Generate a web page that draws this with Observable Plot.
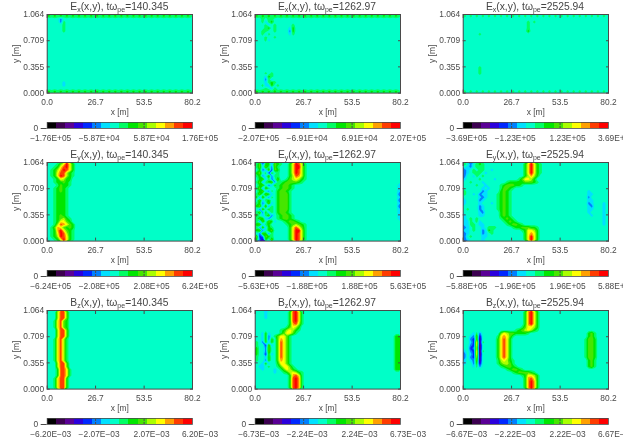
<!DOCTYPE html>
<html>
<head>
<meta charset="utf-8">
<script src="https://cdn.jsdelivr.net/npm/d3@7"></script>
<script src="https://cdn.jsdelivr.net/npm/@observablehq/plot@0.6"></script>
<style>
html,body{margin:0;padding:0;background:#fff;overflow:hidden}
#page{position:relative;width:623px;height:445px;overflow:hidden;background:#fff;filter:blur(0.3px)}
#page>svg{position:absolute;overflow:visible}
.ttl{position:absolute;text-align:center;font:10.3px "Liberation Sans",sans-serif;color:#444;white-space:nowrap;line-height:13px}
.ttl sub{font-size:7px;line-height:0;vertical-align:-2px}
</style>
</head>
<body>
<div id="page"></div>
<script>
// Run labels
const components = ["x", "y", "z"];
const fieldNames = ["E", "E", "B"];
const times = ["140.345", "1262.97", "2525.94"];
// Colour bar end values and inner tick values, row by row
const barMax = [[1.76e5, 2.07e5, 3.69e5], [6.24e5, 5.63e5, 5.88e5], [6.20e-3, 6.73e-3, 6.67e-3]];
const barMid = [[5.87e4, 6.91e4, 1.23e5], [2.08e5, 1.88e5, 1.96e5], [2.07e-3, 2.24e-3, 2.22e-3]];
// Axis ticks
const xTicks = [0, 26.7, 53.5, 80.2];
const yTicks = [0, 0.355, 0.709, 1.064];
const xTickLabels = ["0.0", "26.7", "53.5", "80.2"];
const yTickLabels = ["0.000", "0.355", "0.709", "1.064"];
// 16-step rainbow colour table
const palette = ["#000000","#3c0050","#5a0096","#2a00dc","#0028ff","#0080ff","#00e0ff","#00ffc8","#00ff64","#00e600","#46e600","#aaff00","#ffff00","#ffa000","#ff3c00","#ff0000"];
// Field levels: 48 columns by 26 rows, top row first, hex digit is the
// colour table level, 7 is the background level, omitted cells are background;
// "|" right-aligns what follows to the last column.
const Ex140 = ["989898989898989898989898989898989898989898989898","77775","777758","777778","777778","777778","","","","","","","","","","","","","","","","","777776","777776","","989898989898989898989898989898989898989898989898"];
const Ex1262 = ["989898989898989898989898989898989898989898989898","7787887","7786897","7778678777778","7778978777769","7788778777759","7786877777768","7778778","777867","","","","","","","","","","","777878","777698","777586","7776898","77866978","77787687","989898989898989898989898989898989898989898989898"];
const Ex2525 = ["878787878787878787878787878787878787878787878787","","777777777777777777777878","7777777777777777777778","7777777777777777777778","7777777777777777777779","777778","","","","","","","","","","","777778","777778","777778","","","","","","878787878787878787878787878787878787878787878787"];
const Ey140 = ["7778acfc97","7789cefc97","789bdfec97","789ceeb987","789cfeb987","7789cb9977","77899a9877","7778a99877","7789a98777","7789a98777","7789998777","7789998777","7789998777","7789998777","7789998777","7789998777","7789998777","7789a98777","7789ab9877","7789cca977","778bedca97","78adca9a97","789dfca987","789cfeb987","789bfec987","7789cfc987"];
const Ey1262 = [
"8a5996a98779cfeb8",
"8a6a85a87779cffb8",
"7956a4a97779cfeb8",
"9a7849787779cfeb8",
"8957a5887779bedb8",
"79a6857a778abcb98",
"8a58 9a5889aaaa98".replace(" ",""),
"79a756989aa98|6",
"8a5a87789aa98|6",
"79a65879aa98|6",
"8a7a9679aaa8|5",
"95a75879aaa8|6",
"7a689779aaa8|5",
"8957a679aaa8|6",
"9a6a5879aaa8|5",
"75a79879aaa8|6",
"8a596879aa98|6",
"9768a5789aa98|6",
"8a9657789aa98|6",
"85a7a967789aa98",
"9a6897777789aba98",
"85a698777779ceca8",
"9a579a777779cffb8",
"75a9587 77779cfeb8".replace(" ",""),
"a45a987 77779cfeb8".replace(" ",""),
"95397a7 77779cfeb8".replace(" ","")
];
const Ey2525 = [
"875789877777777777779cfc98",
"765788877777777777779cfc98",
"567878877677777777779cfc98",
"567888767777777777779cfc98",
"577687877777777777779bdb9",
"6777787777677777778accb9",
"77877767777777899999aaa98",
"77778776777789aaa998",
"7777776767778aa98",
"8777775677779a98|6777777",
"8776756677789a98|6677777",
"7777765677789a98|5777777",
"6777756777789a98|6677777",
"6777767776789a98|5677767",
"7777756777789a98|6577767",
"7877756777789a98|6677767",
"7777765777779a98|6777767",
"6777766777779a98|7677767",
"67878777777789a98|7777767",
"668786777777789a98|7777767",
"6688766777777789aa98|7777767",
"567877678887777789 9aaa998".replace(" ",""),
"667877569877777777789ccb9",
"567777567877777777779cdc9",
"578777667777777777779cfc9",
"567777677777777777779cfc9"
];
const Bz140 = ["777beea","777beea","777beea","778cea9","778cea9","778cea9","777beea","777beea","777beea","778ceb8","778ceb8","778ceb8","778ceb8","778ceb8","778ceb8","778ceb8","778ceb8","777beea","777beea","7779eec8","7779eec8","7779eec8","778cee9","778cee9","778cee9","778cee9"];
const Bz1262 = [
"777677777779efc8",
"777677777779efc8",
"777677777779efc8",
"777777777779efc8",
"777777777779deb8",
"77777777778acb9",
"7777777789bcb98",
"76967778acca8".replace(/^/,"7"),
"7769578acca8|99",
"7769597adca8|99",
"8759697aeca8|99",
"8774a67aeca8|99",
"9775a77aeca8|99",
"9775a77aeca8|99",
"9774967aeca8|99",
"8776977aeca8|99",
"8775977adca8|99",
"77696779cca8|99",
"76678778acca8|99",
"776777678acb98|99",
"77777767789bcb98",
"777777777779dec8",
"777777777779efd8",
"777777777779efd8",
"777777777779efd8",
"777777777779efd8"
];
const Bz2525 = [
"777777777777777777779dfc9",
"777777777777777777779dfc9",
"777777777777777777779dfc9",
"777777777777777777779dfc9",
"777777777777777777779dfc9",
"77777777777777777778accb9",
"7777777777777777789abcb98",
"777685777777acbaa99998|9a87777",
"7765a3777778cdca8|9a87777",
"7754a2777779cec9|8aa97777",
"7764c2877779cec9|8aa97777",
"7754c1777779cec9|8aa97777",
"7745b1777779cec9|8aa97777",
"6754c1877779cec9|8aa97777",
"5764c1777779cec9|8aa97777",
"5754b2777779cec9|8aa97777",
"6765a2777778bcb98|9a87777",
"6775937777 78abba8".replace(" ","")+"|9a87777",
"777685777777 89aa98".replace(" ","")+"|9a87777",
"7777777777777789aa98",
"777777777777777789aaaa98",
"777777777777777777789ccb9",
"777777777777777777779dec9",
"777777777777777777779dfd9",
"777777777777777777779dfd9",
"777777777777777777779dfd9"
];
const fields = [[Ex140, Ex1262, Ex2525], [Ey140, Ey1262, Ey2525], [Bz140, Bz1262, Bz2525]];

const NX = 48, NY = 26;
const colLeft = [46.7, 254.3, 462.3], colWidth = 145.3;
const rowTop = [14, 162, 310], panelHeight = 78.6;
const ink = "#4a4a4a";
const font = {fontFamily: "Liberation Sans, sans-serif", fontSize: "8.4px", color: ink, overflow: "visible", background: "none"};
const fmt = v => {
  const [m, e] = v.toExponential(2).split("e");
  const sign = e[0] === "-" ? "-" : "+";
  return (m.replace("-", "\u2212") + "E" + (sign === "-" ? "\u2212" : "+") + e.slice(1).padStart(2, "0"));
};
const page = document.getElementById("page");

function gridValues(rows, step) {
  const out = [];
  for (const row of rows) {
    const [a, b = ""] = row.split("|");
    const s = (a + "7".repeat(Math.max(0, NX - a.length - b.length)) + b).slice(0, NX);
    for (const ch of s) out.push((parseInt(ch, 16) - 7.5) * step);
  }
  return out;
}

for (let r = 0; r < 3; r++) for (let c = 0; c < 3; c++) {
  const max = barMax[r][c], mid = barMid[r][c], step = max / 8;
  const thresholds = d3.range(16).map(k => (k - 8) * step);
  const colorOpt = {type: "threshold", domain: thresholds.slice(1), range: palette};
  const values = gridValues(fields[r][c], step);
  const W = 208, H = 118;

  const panel = Plot.plot({
    width: W, height: H, marginLeft: colLeft[c] - (c === 0 ? 0 : colLeft[c] - 46.7), marginRight: W - 46.7 - colWidth,
    marginTop: 0, marginBottom: H - panelHeight,
    style: font,
    x: {domain: [0, 80.2]},
    y: {domain: [0, 1.064]},
    color: colorOpt,
    marks: [
      Plot.contour(values, {width: NX, height: NY, x1: 0, x2: 80.2, y1: 1.064, y2: 0, fill: Plot.identity, thresholds, stroke: "none"}),
      Plot.frame({stroke: ink, strokeWidth: 1}),
      Plot.axisX(xTicks, {anchor: "bottom", tickSize: -3, tickPadding: 9, tickFormat: (d, i) => xTickLabels[i], label: "x [m]", labelAnchor: "center", labelArrow: "none", labelOffset: 22, stroke: ink}),
      Plot.axisX(xTicks, {anchor: "top", tickSize: -3, tickFormat: () => "", label: null, stroke: ink}),
      Plot.axisY(yTicks, {anchor: "left", tickSize: -3, tickPadding: 6, tickFormat: (d, i) => yTickLabels[i], label: "y [m]", labelAnchor: "center", labelArrow: "none", labelOffset: 34, stroke: ink}),
      Plot.axisY(yTicks, {anchor: "right", tickSize: -3, tickFormat: () => "", label: null, stroke: ink})
    ]
  });
  panel.style.left = (colLeft[c] - 46.7) + "px";
  panel.style.top = rowTop[r] + "px";
  page.appendChild(panel);

  const levels = thresholds.map((t, i) => ({x1: t, x2: i < 15 ? thresholds[i + 1] : max, v: t + step / 2}));
  const neg = [-max, -mid], pos = [mid, max];
  const bar = Plot.plot({
    width: W, height: 24, marginLeft: 46.7, marginRight: W - 46.7 - colWidth, marginTop: 0, marginBottom: 18,
    style: font,
    x: {domain: [-max, max]},
    y: {domain: [0, 1]},
    color: colorOpt,
    marks: [
      Plot.rect(levels, {x1: "x1", x2: "x2", y1: 0, y2: 1, fill: "v", shapeRendering: "crispEdges"}),
      Plot.frame({stroke: ink, strokeWidth: 0.8}),
      Plot.axisX([-mid, mid], {anchor: "bottom", tickSize: -2, tickFormat: () => "", label: null, stroke: ink}),
      Plot.axisX([-mid, mid], {anchor: "top", tickSize: -2, tickFormat: () => "", label: null, stroke: ink}),
      Plot.text(neg, {x: d => d, y: 0, text: fmt, dy: 10, dx: 3.5, fill: ink}),
      Plot.text(pos, {x: d => d, y: 0, text: fmt, dy: 10, dx: 7.5, fill: ink})
    ]
  });
  bar.style.left = (colLeft[c] - 46.7) + "px";
  bar.style.top = (rowTop[r] + 108.3) + "px";
  page.appendChild(bar);

  const t = document.createElement("div");
  t.className = "ttl";
  t.style.left = colLeft[c] + "px";
  t.style.width = colWidth + "px";
  t.style.top = (rowTop[r] - 14) + "px";
  t.innerHTML = fieldNames[r] + "<sub>" + components[r] + "</sub>(x,y), t\u03c9<sub>pe</sub>=" + times[c];
  page.appendChild(t);
}
</script>
</body>
</html>
